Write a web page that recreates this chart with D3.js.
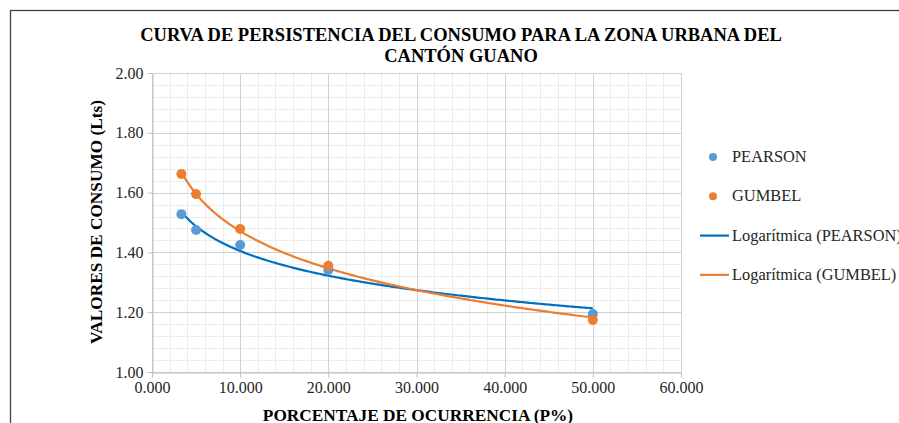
<!DOCTYPE html>
<html>
<head>
<meta charset="utf-8">
<script src="https://cdn.jsdelivr.net/npm/d3@7"></script>
<style>
  body { margin: 0; background: #fff; }
  svg { display: block; font-family: "Liberation Serif", "Times New Roman", serif; }
  .tick text { font-family: "Liberation Serif", "Times New Roman", serif; }
</style>
</head>
<body>
<svg id="chart" width="899" height="423"></svg>
<script>
// data (P% = 100 / return period)
var probabilities = [3.333, 5, 10, 20, 50];
var pearsonValues = [1.528, 1.475, 1.425, 1.341, 1.194];
var gumbelValues = [1.662, 1.595, 1.478, 1.355, 1.174];
var xTicks = [0, 10, 20, 30, 40, 50, 60];
var yTicks = [1.00, 1.20, 1.40, 1.60, 1.80, 2.00];
var legendLabels = ["PEARSON", "GUMBEL", "Logarítmica (PEARSON)", "Logarítmica (GUMBEL)"];

var svg = d3.select("#chart"),
    plotLeft = 152, plotRight = 681, plotTop = 73, plotBottom = 372,
    blue = "#5b9bd5", orange = "#ed7d31", trendBlue = "#0070c0";

var x = d3.scaleLinear().domain([0, 60]).range([plotLeft, plotRight]);
var y = d3.scaleLinear().domain([1, 2]).range([plotBottom, plotTop]);

// chart frame
svg.append("rect").attr("x", 10.5).attr("y", 10.5).attr("width", 900).attr("height", 420)
  .attr("fill", "#fff").attr("stroke", "#404040").attr("stroke-width", 1.3);

// minor grid
var grid = svg.append("g");
grid.selectAll(".vminor").data(d3.range(0, 60.1, 2)).enter().append("line")
  .attr("x1", function (d) { return Math.round(x(d)) + 0.5 }).attr("x2", function (d) { return Math.round(x(d)) + 0.5 })
  .attr("y1", plotTop).attr("y2", plotBottom).style("stroke", "#ececec");
grid.selectAll(".hminor").data(d3.range(1, 2.001, 0.04)).enter().append("line")
  .attr("y1", function (d) { return Math.round(y(d)) + 0.5 }).attr("y2", function (d) { return Math.round(y(d)) + 0.5 })
  .attr("x1", plotLeft).attr("x2", plotRight).style("stroke", "#ececec");
// major grid
grid.selectAll(".vmajor").data(xTicks).enter().append("line")
  .attr("x1", function (d) { return Math.round(x(d)) + 0.5 }).attr("x2", function (d) { return Math.round(x(d)) + 0.5 })
  .attr("y1", plotTop).attr("y2", plotBottom).style("stroke", "#d0d0d0");
grid.selectAll(".hmajor").data(yTicks).enter().append("line")
  .attr("y1", function (d) { return Math.round(y(d)) + 0.5 }).attr("y2", function (d) { return Math.round(y(d)) + 0.5 })
  .attr("x1", plotLeft).attr("x2", plotRight).style("stroke", "#d0d0d0");

// axes
var xAxis = svg.append("g").attr("transform", "translate(0," + (plotBottom + 0.5) + ")")
  .call(d3.axisBottom(x).tickValues(xTicks).tickFormat(d3.format(".3f")).tickSize(5).tickSizeOuter(0));
var yAxis = svg.append("g").attr("transform", "translate(" + (plotLeft + 0.5) + ",0)")
  .call(d3.axisLeft(y).tickValues(yTicks).tickFormat(d3.format(".2f")).tickSize(5).tickSizeOuter(0));
[xAxis, yAxis].forEach(function (a) {
  a.attr("font-family", null);
  a.selectAll("path, line").style("stroke", "#bfbfbf");
  a.selectAll("text").style("font-size", "16px").style("fill", "#262626");
});
xAxis.selectAll("text").attr("y", 9);
yAxis.selectAll("text").attr("x", -9);

// logarithmic trendlines (least squares y = a ln x + b)
function logFit(xs, ys) {
  var lx = xs.map(Math.log), mx = d3.mean(lx), my = d3.mean(ys);
  var a = d3.sum(lx, function (v, i) { return (v - mx) * (ys[i] - my) }) / d3.sum(lx, function (v) { return (v - mx) * (v - mx) });
  var b = my - a * mx;
  return function (v) { return a * Math.log(v) + b };
}
var line = d3.line().x(function (d) { return x(d[0]) }).y(function (d) { return y(d[1]) });
[[pearsonValues, trendBlue], [gumbelValues, orange]].forEach(function (s) {
  var f = logFit(probabilities, s[0]);
  var pts = d3.range(0, 201).map(function (i) {
    var v = probabilities[0] + (probabilities[4] - probabilities[0]) * i / 200;
    return [v, f(v)];
  });
  svg.append("path").datum(pts).attr("d", line).style("fill", "none").style("stroke", s[1]).style("stroke-width", 2.2);
});

// points
[[pearsonValues, blue], [gumbelValues, orange]].forEach(function (s) {
  svg.append("g").selectAll("circle").data(s[0]).enter().append("circle")
    .attr("cx", function (d, i) { return x(probabilities[i]) }).attr("cy", function (d) { return y(d) })
    .attr("r", 5).style("fill", s[1]);
});

// titles
var title = svg.append("text").attr("text-anchor", "middle").style("font-weight", "bold").style("font-size", "18.5px").style("fill", "#000");
title.append("tspan").attr("x", 461).attr("y", 41).text("CURVA DE PERSISTENCIA DEL CONSUMO PARA LA ZONA URBANA DEL");
title.append("tspan").attr("x", 461).attr("y", 62).text("CANTÓN GUANO");
svg.append("text").attr("text-anchor", "middle").attr("x", 418).attr("y", 421)
  .style("font-weight", "bold").style("font-size", "17.3px").text("PORCENTAJE DE OCURRENCIA (P%)");
svg.append("text").attr("text-anchor", "middle").attr("transform", "translate(102,222) rotate(-90)")
  .style("font-weight", "bold").style("font-size", "17.3px").text("VALORES DE CONSUMO (Lts)");

// legend
var legend = svg.append("g");
legendLabels.forEach(function (label, i) {
  var ly = 157 + i * 39.3, g = legend.append("g").attr("transform", "translate(0," + ly + ")");
  if (i < 2) {
    g.append("circle").attr("cx", 713).attr("cy", 0).attr("r", 4).style("fill", i === 0 ? blue : orange);
  } else {
    g.append("line").attr("x1", 700).attr("x2", 729).attr("y1", 0).attr("y2", 0)
      .style("stroke", i === 2 ? trendBlue : orange).style("stroke-width", 2.2);
  }
  g.append("text").attr("x", 732).attr("y", 5).style("font-size", "16.4px").style("fill", "#262626").text(label);
});
</script>
</body>
</html>
